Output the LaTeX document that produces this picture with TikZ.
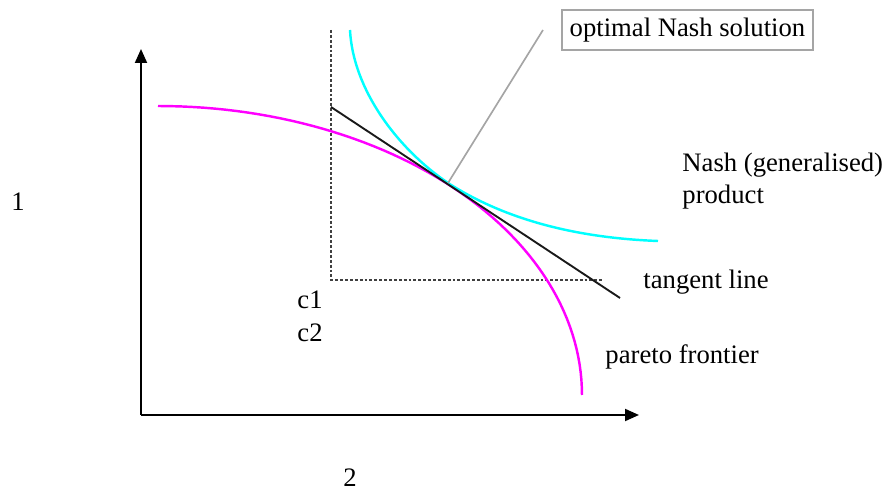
\documentclass[tikz,border=0pt]{standalone}
\usepackage{fontspec}
\setmainfont{Liberation Serif}
\usetikzlibrary{arrows.meta}
\definecolor{paretomag}{RGB}{255,0,255}
\definecolor{nashcyan}{RGB}{0,255,255}
\definecolor{tagline}{RGB}{165,165,165}

\begin{document}
\begin{tikzpicture}[
      x=0.45pt, y=-0.45pt,
      every node/.style={font=\fontsize{12}{14.4}\selectfont, inner sep=0pt},
      axis/.style={line width=0.9pt, -{Triangle[length=6.3pt, width=5.4pt]}},
      guide/.style={black!75, line width=0.55pt, dash pattern=on 1.3pt off 0.9pt},
      curve/.style={line width=1.1pt},
      lbl/.style={anchor=west, align=left},
    ]
    \useasboundingbox (0,0) rectangle (887,498);

    % axes
    \coordinate (O) at (141,415);
    \coordinate (ytip) at (141,49);
    \coordinate (xtip) at (639,415);
    \draw[axis] (O) -- (ytip);
    \draw[axis] (O) -- (xtip);
    \node (one) at (18,202) {1};
    \node (two) at (350,478) {2};

    % disagreement point
    \coordinate (c1top) at (331,30);
    \coordinate (corner) at (331,280);
    \coordinate (c2end) at (602,280);
    \draw[guide] (c1top) -- (corner) -- (c2end);
    \node[lbl] (c1) at (297,300) {c1};
    \node[lbl] (c2) at (297,333) {c2};

    % tangent line
    \coordinate (t1) at (331,107);
    \coordinate (t2) at (620,298);
    \coordinate (opt) at (448,183);

    % pareto frontier and Nash product
    \draw[curve, paretomag] plot[domain=90:0, samples=60]
      ({158+424*cos(\x)}, {395-289*sin(\x)});
    \draw[curve, nashcyan] (350,30) .. controls (353,90) and (398,149) .. (opt)
      .. controls (508,221.4) and (580,238) .. (658,241);
    \draw[line width=0.85pt, black!90] (t1) -- (t2);

    \node[draw=tagline, line width=0.9pt, minimum width=113pt,
          minimum height=18pt] (opttag) at (687.5,30) {optimal Nash solution};
    \coordinate (tagfoot) at (543,30);
    \draw[tagline, line width=0.75pt] (opt) -- (tagfoot);

    \node[lbl] (nash) at (682,181) {Nash (generalised)\\product};
    \node[lbl] (tangent) at (643,282) {tangent line};
    \node[lbl] (pareto) at (605,357) {pareto frontier};
  \end{tikzpicture}
\end{document}
